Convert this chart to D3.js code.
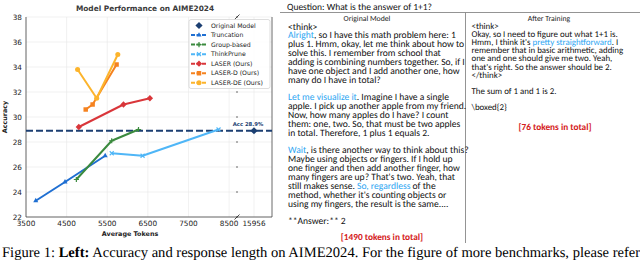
<!DOCTYPE html>
<html>
<head>
<meta charset="utf-8">
<script src="https://cdn.jsdelivr.net/npm/d3@7"></script>
<style>
  body { margin: 0; background: #fff; }
  svg { display: block; text-rendering: geometricPrecision; }
</style>
</head>
<body>
<div id="figure"></div>
<script>
// --- chart data ---
const methodNames = ['Original Model', 'Truncation', 'Group-based', 'ThinkPrune', 'LASER (Ours)', 'LASER-D (Ours)', 'LASER-DE (Ours)'];
const originalTokens = [15956];
const originalAccuracy = [28.9];
const truncationTokens = [3740, 4460, 5450];
const truncationAccuracy = [23.3, 24.8, 26.9];
const groupTokens = [4740, 5610, 6270];
const groupAccuracy = [25.0, 28.1, 29.0];
const thinkPruneTokens = [5610, 6370, 8240];
const thinkPruneAccuracy = [27.1, 26.9, 29.0];
const laserTokens = [4800, 5900, 6550];
const laserAccuracy = [29.2, 31.0, 31.5];
const laserDTokens = [4970, 5140, 5730];
const laserDAccuracy = [30.6, 31.0, 34.2];
const laserDETokens = [4770, 5240, 5760];
const laserDEAccuracy = [33.8, 31.5, 35.0];

const tokenTicks = [3500, 4500, 5500, 6500, 7500, 8500];
const farTokenTicks = [15956];
const accuracyTicks = [22, 24, 26, 28, 30, 32, 34, 36, 38];

// --- text panel (|...| marks the highlighted words) ---
const questionText = 'Question: What is the answer of 1+1?';
const originalLines = [
  '<think>',
  '|Alright|, so I have this math problem here: 1',
  'plus 1. Hmm, okay, let me think about how to',
  'solve this. I remember from school that',
  'adding is combining numbers together. So, if I',
  'have one object and I add another one, how',
  'many do I have in total?',
  '',
  '|Let me visualize it|. Imagine I have a single',
  'apple. I pick up another apple from my friend.',
  'Now, how many apples do I have? I count',
  'them: one, two. So, that must be two apples',
  'in total. Therefore, 1 plus 1 equals 2.',
  '',
  '|Wait|, is there another way to think about this?',
  'Maybe using objects or fingers. If I hold up',
  'one finger and then add another finger, how',
  'many fingers are up? That\'s two. Yeah, that',
  'still makes sense. |So, regardless| of the',
  'method, whether it\'s counting objects or',
  'using my fingers, the result is the same....',
  '',
  '**Answer:** 2'
];
const trainedLines = [
  '<think>',
  'Okay, so I need to figure out what 1+1 is.',
  'Hmm, I think it\'s |pretty straightforward|. I',
  'remember that in basic arithmetic, adding',
  'one and one should give me two. Yeah,',
  'that\'s right. So the answer should be 2.',
  '</think>',
  '',
  'The sum of 1 and 1 is 2.',
  '',
  '\\boxed{2}'
];
const tokenTotals = ['[1490 tokens in total]', '[76 tokens in total]'];
const columnTitles = ['Original Model', 'After Training'];
const captionParts = ['Figure 1: ', 'Left:', ' Accuracy and response length on AIME2024. For the figure of more benchmarks, please refer'];

const PANEL_FONT = 'Carlito, Lato, sans-serif';


/**
 * Broken-axis scatter/line chart.
 * @class
 */
class PerformanceChart {

  constructor(svg) {

    this._svg = svg;
    this._font = 'DejaVu Sans, sans-serif';

    this._x = d3.scaleLinear().domain([3500, 8670]).range([26, 236]);
    this._xFar = d3.scaleLinear().domain([15616, 16316]).range([237, 272]);
    this._y = d3.scaleLinear().domain([22, 38]).range([217, 17]);

    this._series = [
      { name: methodNames[1], color: '#1f6fd2', marker: 'triangle', tokens: truncationTokens, acc: truncationAccuracy },
      { name: methodNames[2], color: '#3b8a3e', marker: 'plus', tokens: groupTokens, acc: groupAccuracy },
      { name: methodNames[3], color: '#4fb6f7', marker: 'cross', tokens: thinkPruneTokens, acc: thinkPruneAccuracy },
      { name: methodNames[4], color: '#d9363a', marker: 'diamond', tokens: laserTokens, acc: laserAccuracy },
      { name: methodNames[5], color: '#f5821f', marker: 'square', tokens: laserDTokens, acc: laserDAccuracy },
      { name: methodNames[6], color: '#fcb42c', marker: 'circle', tokens: laserDETokens, acc: laserDEAccuracy }
    ];
    this._originalColor = '#1c3f72';
  }


  _marker(g, kind, color) {

    if (kind === 'plus') {
      return g.append('path').attr('d', 'M-2.6,0H2.6M0,-2.6V2.6')
        .style('stroke', color).style('stroke-width', 1.2).style('fill', 'none');
    }
    if (kind === 'cross') {
      return g.append('path').attr('d', 'M-2,-2L2,2M-2,2L2,-2')
        .style('stroke', color).style('stroke-width', 1.1).style('fill', 'none');
    }
    const types = {
      triangle: [d3.symbolTriangle, 11, 0],
      diamond: [d3.symbolSquare, 20, 45],
      square: [d3.symbolSquare, 20, 0],
      circle: [d3.symbolCircle, 20, 0],
      original: [d3.symbolSquare, 26, 45]
    };
    const t = types[kind];
    return g.append('path')
      .attr('d', d3.symbol(t[0], t[1])())
      .attr('transform', 'rotate(' + t[2] + ')')
      .style('fill', color);
  }


  render() {

    const x = this._x, xFar = this._xFar, y = this._y;
    const g = this._svg.append('g').attr('class', 'chart');
    const top = y.range()[1], bottom = y.range()[0];

    // grid
    g.selectAll('line.vgrid')
      .data(tokenTicks.map(x).concat(farTokenTicks.map(xFar)))
      .enter().append('line')
      .attr('x1', d => d).attr('x2', d => d)
      .attr('y1', top).attr('y2', bottom)
      .style('stroke', '#e8e8e8').style('stroke-width', 0.6);

    g.selectAll('line.hgrid')
      .data(accuracyTicks)
      .enter().append('line')
      .attr('x1', x.range()[0]).attr('x2', xFar.range()[1])
      .attr('y1', d => y(d)).attr('y2', d => y(d))
      .style('stroke', '#e8e8e8').style('stroke-width', 0.6);

    // spines
    const spine = (x1, y1, x2, y2) => g.append('line')
      .attr('x1', x1).attr('y1', y1).attr('x2', x2).attr('y2', y2)
      .style('stroke', '#444').style('stroke-width', 0.8);
    spine(x.range()[0], top, x.range()[0], bottom);
    spine(x.range()[0], bottom, xFar.range()[1], bottom);
    spine(xFar.range()[1], top, xFar.range()[1], bottom);

    // little ticks on the broken side
    g.selectAll('line.btick')
      .data(accuracyTicks)
      .enter().append('line')
      .attr('x1', xFar.range()[0] - 1).attr('x2', xFar.range()[0] + 1)
      .attr('y1', d => y(d)).attr('y2', d => y(d))
      .style('stroke', '#444').style('stroke-width', 0.8);

    // break marks
    [top, bottom].forEach(function(yy) {
      g.append('path')
        .attr('d', 'M' + (xFar.range()[0] - 2.5) + ',' + (yy + 2.5) + 'L' + (xFar.range()[0] + 2.5) + ',' + (yy - 2.5))
        .style('stroke', '#222').style('stroke-width', 0.8);
    });

    // tick labels
    const tickStyle = sel => sel
      .style('font-family', this._font).style('font-size', '7.3px').style('fill', '#222');

    g.selectAll('text.ytick')
      .data(accuracyTicks)
      .enter().append('text')
      .attr('x', x.range()[0] - 4).attr('y', d => y(d)).attr('dy', '0.35em')
      .attr('text-anchor', 'end')
      .text(d => d)
      .call(tickStyle);

    g.selectAll('text.xtick')
      .data(tokenTicks.map(d => [x(d), d]).concat(farTokenTicks.map(d => [xFar(d), d])))
      .enter().append('text')
      .attr('x', d => d[0]).attr('y', bottom + 9)
      .attr('text-anchor', 'middle')
      .text(d => d[1])
      .call(tickStyle);

    // axis titles
    g.append('text')
      .attr('x', 145).attr('y', 11)
      .attr('text-anchor', 'middle')
      .style('font-family', this._font).style('font-size', '7.4px').style('font-weight', 'bold').style('fill', '#3a3a3a')
      .text('Model Performance on AIME2024');

    g.append('text')
      .attr('x', 130).attr('y', 236)
      .attr('text-anchor', 'middle')
      .style('font-family', this._font).style('font-size', '6.4px').style('font-weight', 'bold').style('fill', '#222')
      .text('Average Tokens');

    g.append('text')
      .attr('transform', 'translate(7,' + y(30) + ') rotate(-90)')
      .attr('text-anchor', 'middle')
      .style('font-family', this._font).style('font-size', '6.4px').style('font-weight', 'bold').style('fill', '#222')
      .text('Accuracy');

    // original model reference line
    g.append('line')
      .attr('x1', x.range()[0]).attr('x2', xFar.range()[1])
      .attr('y1', y(originalAccuracy[0])).attr('y2', y(originalAccuracy[0]))
      .style('stroke', this._originalColor).style('stroke-width', 2)
      .style('stroke-dasharray', '7,3');

    // series
    const line = d3.line().x(d => x(d[0])).y(d => y(d[1]));
    this._series.forEach(function(s) {
      const pts = s.tokens.map((t, i) => [t, s.acc[i]]);
      g.append('path')
        .attr('d', line(pts))
        .style('fill', 'none').style('stroke', s.color)
        .style('stroke-width', 2).style('stroke-linejoin', 'round');
      pts.forEach(function(p) {
        const m = g.append('g').attr('transform', 'translate(' + [x(p[0]), y(p[1])] + ')');
        this._marker(m, s.marker, s.color);
      }, this);
    }, this);

    const orig = g.append('g')
      .attr('transform', 'translate(' + [xFar(originalTokens[0]), y(originalAccuracy[0])] + ')');
    this._marker(orig, 'original', this._originalColor);

    g.append('text')
      .attr('x', xFar(originalTokens[0]) - 6).attr('y', y(originalAccuracy[0]) - 5)
      .attr('text-anchor', 'middle')
      .style('font-family', this._font).style('font-size', '5.3px').style('font-weight', 'bold')
      .style('fill', this._originalColor)
      .text('Acc ' + originalAccuracy[0] + '%');

    this._renderLegend(g);
    return this;
  }


  _renderLegend(g) {

    const lg = g.append('g').attr('transform', 'translate(189,19.5)');
    lg.append('rect')
      .attr('width', 81).attr('height', 69).attr('rx', 2)
      .style('fill', '#fff').style('fill-opacity', 0.85)
      .style('stroke', '#d0d0d0').style('stroke-width', 0.7);

    const entries = [{ name: methodNames[0], color: this._originalColor, marker: 'original', noLine: true }]
      .concat(this._series);

    entries.forEach(function(e, i) {
      const row = lg.append('g').attr('transform', 'translate(0,' + (6 + i * 9.55) + ')');
      if (!e.noLine) {
        row.append('line')
          .attr('x1', 2).attr('x2', 18)
          .style('stroke', e.color).style('stroke-width', 2)
          .style('stroke-dasharray', '4,1.5');
      }
      this._marker(row.append('g').attr('transform', 'translate(10,0)'), e.marker, e.color);
      row.append('text')
        .attr('x', 22).attr('dy', '0.35em')
        .style('font-family', this._font).style('font-size', '6.2px').style('fill', '#222')
        .text(e.name);
    }, this);
  }
}


/**
 * Write text lines with highlighted segments.
 */
function writeLines(g, lines, x, y0, step, size) {

  lines.forEach(function(line, i) {
    const t = g.append('text')
      .attr('x', x).attr('y', y0 + i * step)
      .style('font-family', PANEL_FONT).style('font-size', size + 'px').style('fill', '#111')
      .attr('xml:space', 'preserve');
    line.split('|').forEach(function(part, j) {
      t.append('tspan').text(part).style('fill', j % 2 ? '#2ea6f2' : '#111');
    });
  });
}


/**
 * Find the font size at which a text is as wide as the given width.
 */
function fitSize(svg, text, family, weight, width) {

  const probe = svg.append('text')
    .attr('x', -1000).attr('y', -1000)
    .style('font-family', family).style('font-weight', weight)
    .text(text);
  let lo = 3, hi = 20;
  for (let i = 0; i < 16; i++) {
    const mid = (lo + hi) / 2;
    probe.style('font-size', mid + 'px');
    if (probe.node().getBBox().width > width) hi = mid; else lo = mid;
  }
  probe.remove();
  return lo;
}


function draw() {

  const svg = d3.select('#figure').append('svg')
    .attr('width', 640).attr('height', 260);

  new PerformanceChart(svg).render();

  // text panel
  const panel = svg.append('g').attr('class', 'panel');
  const leftSize = fitSize(svg, originalLines[1].replace(/\|/g, ''), PANEL_FONT, 'normal', 168);
  const rightSize = fitSize(svg, trainedLines[3], PANEL_FONT, 'normal', 153);
  const titleSize = fitSize(svg, columnTitles[0], PANEL_FONT, 'normal', 47);
  const totalSize = fitSize(svg, tokenTotals[1], PANEL_FONT, 'bold', 73);

  panel.append('line').attr('x1', 280).attr('x2', 640).attr('y1', 12.5).attr('y2', 12.5)
    .style('stroke', '#888').style('stroke-width', 0.9);
  panel.append('line').attr('x1', 465.5).attr('x2', 465.5).attr('y1', 12.5).attr('y2', 243)
    .style('stroke', '#888').style('stroke-width', 0.9);

  panel.append('text')
    .attr('x', 287).attr('y', 9.5)
    .style('font-family', PANEL_FONT).style('fill', '#111')
    .style('font-size', fitSize(svg, questionText, PANEL_FONT, 'normal', 145) + 'px')
    .text(questionText);

  [367, 549].forEach(function(cx, i) {
    panel.append('text')
      .attr('x', cx).attr('y', 21)
      .attr('text-anchor', 'middle')
      .style('font-family', PANEL_FONT).style('font-size', titleSize + 'px').style('fill', '#222')
      .text(columnTitles[i]);
  });

  writeLines(panel, originalLines, 288, 29.5, 8.85, leftSize);
  writeLines(panel, trainedLines, 471.5, 29, 8.1, rightSize);

  [[382, 240], [555, 130]].forEach(function(p, i) {
    panel.append('text')
      .attr('x', p[0]).attr('y', p[1])
      .attr('text-anchor', 'middle')
      .style('font-family', PANEL_FONT).style('font-size', totalSize + 'px')
      .style('font-weight', 'bold').style('fill', '#d42020')
      .text(tokenTotals[i]);
  });

  // caption
  const capSize = fitSize(svg, captionParts.join(''), 'Liberation Serif, serif', 'normal', 636);
  const cap = svg.append('text')
    .attr('x', 2).attr('y', 257)
    .attr('xml:space', 'preserve')
    .style('font-family', 'Liberation Serif, serif').style('font-size', capSize + 'px').style('fill', '#000');
  captionParts.forEach(function(part, i) {
    cap.append('tspan').text(part).style('font-weight', i === 1 ? 'bold' : 'normal');
  });
}


Promise.all([
  document.fonts.load('10px Carlito'),
  document.fonts.load('bold 10px Carlito'),
  document.fonts.load('12px "Liberation Serif"'),
  document.fonts.load('bold 12px "Liberation Serif"'),
  document.fonts.load('10px "DejaVu Sans"')
]).then(draw, draw);
</script>
</body>
</html>
